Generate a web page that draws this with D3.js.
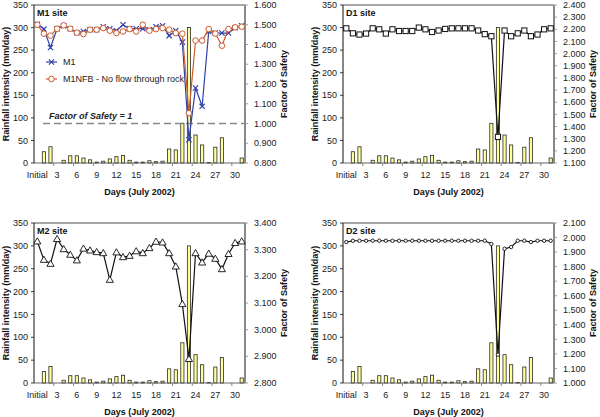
<!DOCTYPE html>
<html><head><meta charset="utf-8">
<script src="https://cdn.jsdelivr.net/npm/d3@7"></script>
<style>body{margin:0;background:#fff} svg{display:block}</style>
</head><body>
<script>
// ---------- data ----------
const categories = ["Initial","1","2","3","4","5","6","7","8","9","10","11","12","13","14","15","16","17","18","19","20","21","22","23","24","25","26","27","28","29","30","31"];
const xTickLabels = ["Initial","3","6","9","12","15","18","21","24","27","30"];
const rainfall = [0,25,36,0,6,16,16,11,7,2,4,9,14,17,6,2,2,5,3,4,31,29,88,300,62,40,1,35,56,0,0,11];
const rainTicks = [0,50,100,150,200,250,300,350];

const fsM1 =    [1.503,1.478,1.385,1.480,1.495,1.480,1.460,1.466,1.475,1.475,1.490,1.480,1.470,1.500,1.480,1.480,1.480,1.475,1.490,1.495,1.445,1.470,1.412,0.918,1.180,1.087,1.466,1.458,1.458,1.458,1.485,1.495];
const fsM1NFB = [1.500,1.455,1.445,1.480,1.497,1.480,1.460,1.453,1.475,1.475,1.483,1.470,1.458,1.466,1.478,1.466,1.500,1.470,1.478,1.483,1.475,1.458,1.455,1.053,1.420,1.420,1.478,1.455,1.394,1.478,1.487,1.490];
const fsD1 =    [2.208,2.167,2.157,2.165,2.208,2.200,2.165,2.200,2.186,2.186,2.186,2.214,2.200,2.178,2.190,2.203,2.208,2.208,2.208,2.208,2.190,2.160,2.143,1.315,2.190,2.143,2.167,2.190,2.143,2.157,2.200,2.208];
const fsM2 =    [3.331,3.262,3.247,3.340,3.302,3.281,3.260,3.304,3.297,3.291,3.287,3.187,3.290,3.272,3.277,3.294,3.287,3.306,3.330,3.327,3.287,3.237,3.096,2.890,3.287,3.252,3.285,3.266,3.227,3.284,3.325,3.331];
const fsD2 =    [1.969,1.978,1.978,1.978,1.978,1.978,1.978,1.978,1.978,1.978,1.978,1.978,1.978,1.978,1.978,1.978,1.978,1.978,1.978,1.978,1.978,1.978,1.956,1.195,1.923,1.935,1.978,1.978,1.969,1.978,1.978,1.978];

const fsTicksM1 = [0.8,0.9,1.0,1.1,1.2,1.3,1.4,1.5,1.6];
const fsTicksD1 = [1.1,1.2,1.3,1.4,1.5,1.6,1.7,1.8,1.9,2.0,2.1,2.2,2.3,2.4];
const fsTicksM2 = [2.8,2.9,3.0,3.1,3.2,3.3,3.4];
const fsTicksD2 = [1.0,1.1,1.2,1.3,1.4,1.5,1.6,1.7,1.8,1.9,2.0,2.1];

const seriesNames = ["M1","M1NFB - No flow through rock"];
const fsLineLabel = "Factor of Safety = 1";

// ---------- drawing ----------
const W = 600, H = 417;
const svg = d3.select("body").append("svg").attr("width", W).attr("height", H)
  .style("font-family", "Arial, 'Liberation Sans', sans-serif");

const panels = [
  {name:"M1 site", ox:0,   top:5,   bottom:163, ticks:fsTicksM1,
   series:[{values:fsM1, color:"#3040a8", marker:"x", name:seriesNames[0]},
           {values:fsM1NFB, color:"#cc5a2a", marker:"circle", name:seriesNames[1]}], legend:true, fsLine:true},
  {name:"D1 site", ox:309, top:5,   bottom:163, ticks:fsTicksD1,
   series:[{values:fsD1, color:"#111", marker:"square"}]},
  {name:"M2 site", ox:0,   top:223, bottom:383, ticks:fsTicksM2,
   series:[{values:fsM2, color:"#111", marker:"triangle"}]},
  {name:"D2 site", ox:309, top:223, bottom:383, ticks:fsTicksD2,
   series:[{values:fsD2, color:"#111", marker:"dot"}]}
];

function drawMarker(g, type, x, y, color) {
  if (type === "x") {
    const s = 2.6;
    g.append("path").attr("d", `M${x-s},${y-s}L${x+s},${y+s}M${x-s},${y+s}L${x+s},${y-s}`)
      .attr("stroke", color).attr("stroke-width", 1.2).attr("fill", "none");
  } else if (type === "circle") {
    g.append("circle").attr("cx", x).attr("cy", y).attr("r", 2.8)
      .attr("fill", "#fff").attr("stroke", color).attr("stroke-width", 1);
  } else if (type === "square") {
    g.append("rect").attr("x", x-2.6).attr("y", y-2.6).attr("width", 5.2).attr("height", 5.2)
      .attr("fill", "#fff").attr("stroke", color).attr("stroke-width", 1);
  } else if (type === "triangle") {
    g.append("path").attr("d", d3.symbol().type(d3.symbolTriangle).size(22)())
      .attr("transform", `translate(${x},${y+0.5})`)
      .attr("fill", "#fff").attr("stroke", color).attr("stroke-width", 0.9);
  } else if (type === "dot") {
    g.append("circle").attr("cx", x).attr("cy", y).attr("r", 1.7)
      .attr("fill", "#fff").attr("stroke", color).attr("stroke-width", 0.9);
  }
}

panels.forEach(p => {
  const left = 34 + p.ox, right = 245 + p.ox;
  const g = svg.append("g");
  const x = d3.scaleBand().domain(categories).range([left, right]);
  const cx = c => x(c) + x.bandwidth() / 2;
  const yL = d3.scaleLinear().domain([0, 350]).range([p.bottom, p.top]);
  const fsDomain = d3.extent(p.ticks);
  const yR = d3.scaleLinear().domain(fsDomain).range([p.bottom, p.top]);

  // bars
  g.append("g").selectAll("rect")
    .data(categories.map((c, i) => ({c, v: rainfall[i]})).filter(d => d.v > 0))
    .join("rect")
    .attr("x", d => cx(d.c) - 1.6).attr("width", 3.2)
    .attr("y", d => yL(d.v)).attr("height", d => p.bottom - yL(d.v))
    .attr("fill", "#ffff99").attr("stroke", "#2a2a2a").attr("stroke-width", 0.8);

  // frame
  g.append("line").attr("x1", left).attr("x2", right).attr("y1", p.top).attr("y2", p.top)
    .attr("stroke", "#8a8a8a").attr("stroke-width", 1.5);
  g.append("line").attr("x1", right).attr("x2", right).attr("y1", p.top).attr("y2", p.bottom)
    .attr("stroke", "#8a8a8a").attr("stroke-width", 2);
  g.append("line").attr("x1", left).attr("x2", right).attr("y1", p.bottom).attr("y2", p.bottom)
    .attr("stroke", "#666").attr("stroke-width", 1.2);
  g.append("line").attr("x1", left).attr("x2", left).attr("y1", p.top).attr("y2", p.bottom)
    .attr("stroke", "#111").attr("stroke-width", 1);

  // left axis ticks & labels
  rainTicks.forEach(t => {
    g.append("line").attr("x1", left - 3).attr("x2", left).attr("y1", yL(t)).attr("y2", yL(t))
      .attr("stroke", "#111").attr("stroke-width", 0.8);
    g.append("text").attr("x", left - 6).attr("y", yL(t)).attr("dy", "0.35em")
      .attr("text-anchor", "end").attr("font-size", 9).attr("fill", "#222").text(t);
  });
  // right axis ticks & labels
  p.ticks.forEach(t => {
    g.append("line").attr("x1", right).attr("x2", right + 3).attr("y1", yR(t)).attr("y2", yR(t))
      .attr("stroke", "#8a8a8a").attr("stroke-width", 0.8);
    g.append("text").attr("x", right + 9).attr("y", yR(t)).attr("dy", "0.35em")
      .attr("text-anchor", "start").attr("font-size", 9).attr("fill", "#222").text(d3.format(".3f")(t));
  });
  // x ticks & labels
  xTickLabels.forEach(lbl => {
    g.append("text").attr("x", cx(lbl)).attr("y", p.bottom + 12).attr("dy", "0.35em")
      .attr("text-anchor", "middle").attr("font-size", 9).attr("fill", "#222").text(lbl);
  });
  categories.forEach((c, i) => {
    if (i % 3 === 2) {
      const xx = x(c) + x.bandwidth();
      g.append("line").attr("x1", xx).attr("x2", xx).attr("y1", p.bottom).attr("y2", p.bottom + 3)
        .attr("stroke", "#666").attr("stroke-width", 0.8);
    }
  });

  // axis titles
  g.append("text").attr("transform", `translate(${p.ox + 6},${(p.top + p.bottom) / 2}) rotate(-90)`)
    .attr("dy", "0.35em").attr("text-anchor", "middle").attr("font-size", 9).attr("font-weight", "bold")
    .attr("fill", "#111").text("Rainfall intensity (mm/day)");
  g.append("text").attr("transform", `translate(${p.ox + 284},${(p.top + p.bottom) / 2}) rotate(-90)`)
    .attr("dy", "0.35em").attr("text-anchor", "middle").attr("font-size", 9).attr("font-weight", "bold")
    .attr("fill", "#111").text("Factor of Safety");
  g.append("text").attr("x", (left + right) / 2).attr("y", p.bottom + 28.5).attr("dy", "0.35em")
    .attr("text-anchor", "middle").attr("font-size", 9).attr("font-weight", "bold")
    .attr("fill", "#111").text("Days (July 2002)");

  // FS = 1 line
  if (p.fsLine) {
    g.append("line").attr("x1", left + 9).attr("x2", right).attr("y1", yR(1.0)).attr("y2", yR(1.0))
      .attr("stroke", "#8a8a8a").attr("stroke-width", 1.3).attr("stroke-dasharray", "7,4");
    g.append("text").attr("x", left + 15).attr("y", yR(1.0) - 5).attr("dy", "0.1em")
      .attr("font-size", 9).attr("font-weight", "bold").attr("font-style", "italic")
      .attr("fill", "#222").text(fsLineLabel);
  }

  // series
  p.series.forEach(s => {
    const line = d3.line().x((d, i) => cx(categories[i])).y(d => yR(d));
    g.append("path").datum(s.values).attr("d", line)
      .attr("fill", "none").attr("stroke", s.color).attr("stroke-width", 1.2);
    s.values.forEach((v, i) => drawMarker(g, s.marker, cx(categories[i]), yR(v), s.color));
  });

  // legend
  if (p.legend) {
    p.series.forEach((s, k) => {
      const ly = 62 + k * 17;
      g.append("line").attr("x1", left + 12).attr("x2", left + 23).attr("y1", ly).attr("y2", ly)
        .attr("stroke", s.color).attr("stroke-width", 1.2);
      drawMarker(g, s.marker, left + 17.5, ly, s.color);
      g.append("text").attr("x", left + 29).attr("y", ly).attr("dy", "0.35em")
        .attr("font-size", 9).attr("fill", "#222").text(s.name);
    });
  }

  // title
  g.append("text").attr("x", left + 3).attr("y", p.top + 8).attr("dy", "0.35em")
    .attr("font-size", 9).attr("font-weight", "bold").attr("fill", "#111").text(p.name);
});
</script>
</body></html>
